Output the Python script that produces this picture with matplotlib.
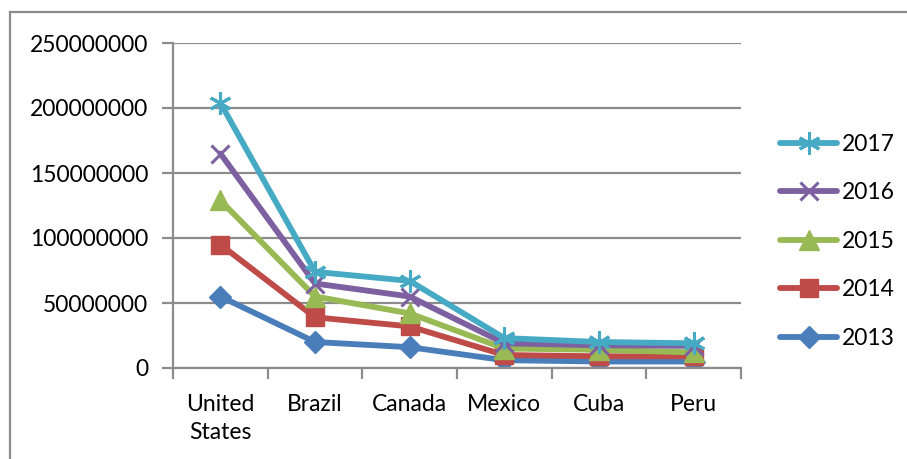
import matplotlib.pyplot as plt
from matplotlib.lines import Line2D

countries = ['United\nStates', 'Brazil', 'Canada', 'Mexico', 'Cuba', 'Peru']
years = ['2013', '2014', '2015', '2016', '2017']

v2013 = [55e6, 20e6, 16e6, 6e6, 5e6, 5e6]
v2014 = [95e6, 39e6, 32e6, 10e6, 9e6, 9e6]
v2015 = [129e6, 55e6, 42e6, 15e6, 14e6, 12e6]
v2016 = [165e6, 65e6, 55e6, 19e6, 17.5e6, 17e6]
v2017 = [204e6, 74e6, 67e6, 23e6, 20e6, 19e6]

series = [v2013, v2014, v2015, v2016, v2017]
colors = ['#4A7EBB', '#BE4B48', '#98B954', '#7D60A0', '#46AAC5']
markers = ['D', 's', '^', 'x', (6, 2, 0)]
msizes = [11, 13, 14, 13, 16]

plt.rcParams['font.family'] = ['Lato', 'DejaVu Sans']

fig = plt.figure(figsize=(9.07, 4.59), dpi=100)
ax = fig.add_axes([173/907, 1 - 368/459, (741-173)/907, (368-43)/459])

x = range(len(countries))
handles = []
for vals, yr, c, m, ms in zip(series, years, colors, markers, msizes):
    ln, = ax.plot(x, vals, color=c, lw=4.2, marker=m, markersize=ms,
                  markeredgecolor=c, markeredgewidth=2.2 if m in ('x', (6, 2, 0)) else 1,
                  solid_capstyle='round', label=yr)
    handles.append(ln)

ax.set_xlim(-0.5, len(countries) - 0.5)
ax.set_ylim(0, 250e6)
ax.set_yticks(range(0, 250000001, 50000000))
ax.set_yticklabels([str(v) for v in range(0, 250000001, 50000000)], fontsize=16.5)
ax.yaxis.grid(True, color='#8C8C8C', lw=1.6)
ax.set_axisbelow(True)

ax.set_xticks(list(x))
ax.set_xticklabels(countries, fontsize=16.5, linespacing=1.4)
ax.set_xticks([i - 0.5 for i in range(len(countries) + 1)], minor=True)
ax.tick_params(axis='x', which='major', length=0, pad=19)
ax.tick_params(axis='x', which='minor', length=8, width=1.6, color='#8C8C8C')
ax.tick_params(axis='y', length=8, width=1.6, color='#8C8C8C', pad=10)

for side in ['top', 'right']:
    ax.spines[side].set_visible(False)
for side in ['left', 'bottom']:
    ax.spines[side].set_color('#8C8C8C')
    ax.spines[side].set_linewidth(1.6)

leg = fig.legend(handles[::-1], years[::-1], loc='upper left',
                 bbox_to_anchor=(780/907, 1 - 134/459), frameon=False,
                 fontsize=16.5, handlelength=2.5, labelspacing=1.2,
                 handletextpad=0.2, borderpad=0, borderaxespad=0)

# outer chart border (top and left edges only visible)
fig.add_artist(Line2D([10/907, 1], [1 - 12/459, 1 - 12/459], color='#8C8C8C', lw=1.6))
fig.add_artist(Line2D([10/907, 10/907], [0, 1 - 12/459], color='#8C8C8C', lw=1.6))

fig.savefig('out.png', dpi=100)
